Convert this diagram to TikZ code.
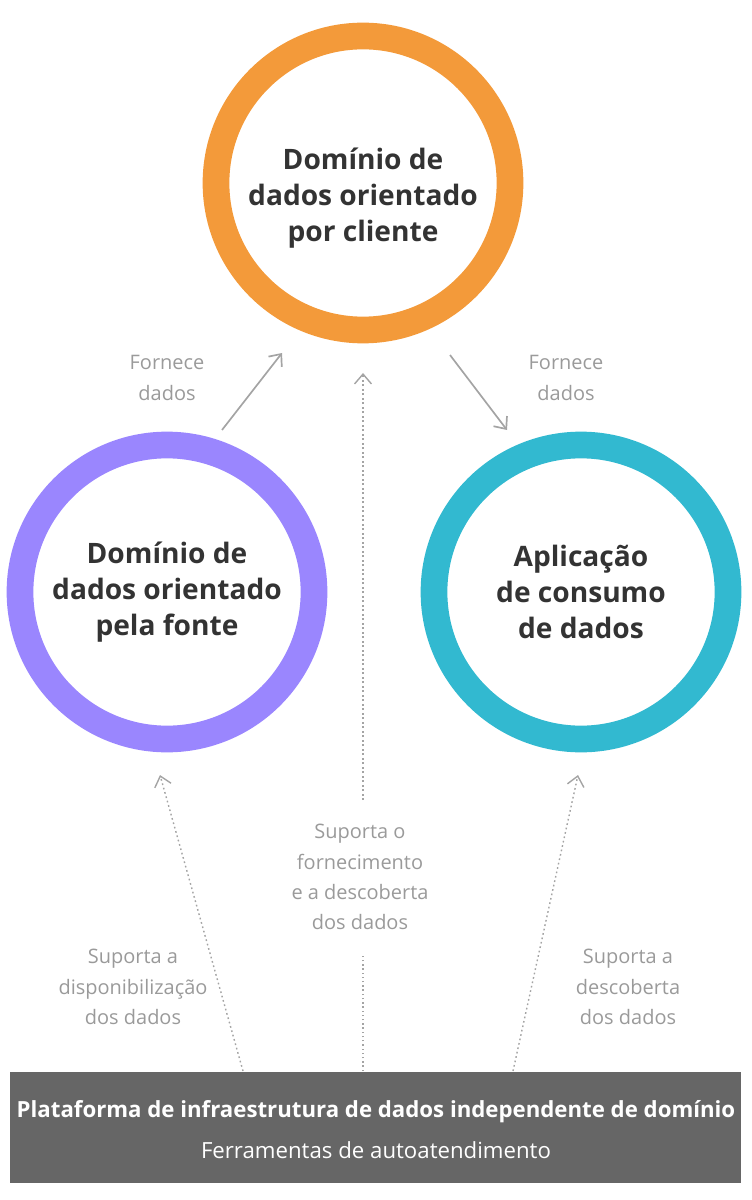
\documentclass[tikz,border=0pt]{standalone}
\usepackage{fontspec}
\setmainfont{Open Sans}
\usetikzlibrary{positioning}
\usetikzlibrary{calc}
\usetikzlibrary{arrows.meta}
\definecolor{ringorange}{HTML}{F39A3A}
\definecolor{ringpurple}{HTML}{9A86FE}
\definecolor{ringteal}{HTML}{32B9D0}
\definecolor{labelgray}{HTML}{9A9A9A}
\definecolor{boxgray}{HTML}{666666}

\begin{document}
\begin{tikzpicture}[x=0.025cm,y=-0.025cm]
\tikzstyle{domainring} =[circle,line width=19pt,minimum size=294*0.025cm,align=center,
  font=\fontsize{20}{25.5}\selectfont\bfseries,text=black!80]
\tikzstyle{lbl} =[align=center,text=labelgray,font=\fontsize{14.2}{21.5}\selectfont]
\tikzstyle{flow} =[draw=labelgray!90,line width=1.2pt,-{Straight Barb[length=7pt,width=12pt]}]
\tikzstyle{support} =[flow,dotted,line width=1pt]
\useasboundingbox (0,0) rectangle (751,1200);

\node[domainring,draw=ringorange](client) at (363,183){};
\node[align=center,font=\fontsize{20}{25.5}\selectfont\bfseries,text=black!80]
  (clienttext) at (363,198){Domínio de\\dados orientado\\por cliente};
\node[domainring,draw=ringpurple](source) at (167,592){Domínio de\\dados orientado\\pela fonte};
\node[domainring,draw=ringteal](consumer) at (581,592){Aplicação\\de consumo\\de dados};

\node[fill=boxgray,minimum width=731*0.025cm,minimum height=111*0.025cm,inner sep=0pt]
  (platform) at (375.5,1127.5){};
\node[text=white,font=\fontsize{15.8}{19}\selectfont\bfseries] (ptitle) at (376,1112)
  {Plataforma de infraestrutura de dados independente de domínio};
\node[text=white,font=\fontsize{15.8}{19}\selectfont] (psub) at (376,1150)
  {Ferramentas de autoatendimento};

% fornece dados
\node[lbl](lblL) at (167,378){Fornece\\dados};
\node[lbl](lblR) at (566,378){Fornece\\dados};
\coordinate (aL0) at (222,430);
\coordinate (aL1) at (282,353);
\coordinate (aR0) at (450,355);
\coordinate (aR1) at (507,430);
\draw[flow] (aL0)--(aL1);
\draw[flow] (aR0)--(aR1);

% suporte
\node[lbl](supC) at (360,877){Suporta o\\fornecimento\\e a descoberta\\dos dados};
\node[lbl](supL) at (133,987){Suporta a\\disponibilização\\dos dados};
\node[lbl](supR) at (628,987){Suporta a\\descoberta\\dos dados};
\coordinate (cB) at (363,1071);
\coordinate (cM) at (363,955);
\coordinate (cN) at (363,800);
\coordinate (cT) at (363,373);
\draw[draw=labelgray!90,dotted,line width=1pt] (cB)--(cM);
\draw[support] (cN)--(cT);
\coordinate (lB) at (243,1071);
\coordinate (lT) at (160,775);
\draw[support] (lB)--(lT);
\coordinate (rB) at (513,1071);
\coordinate (rT) at (578,775);
\draw[support] (rB)--(rT);
\end{tikzpicture}
\end{document}
